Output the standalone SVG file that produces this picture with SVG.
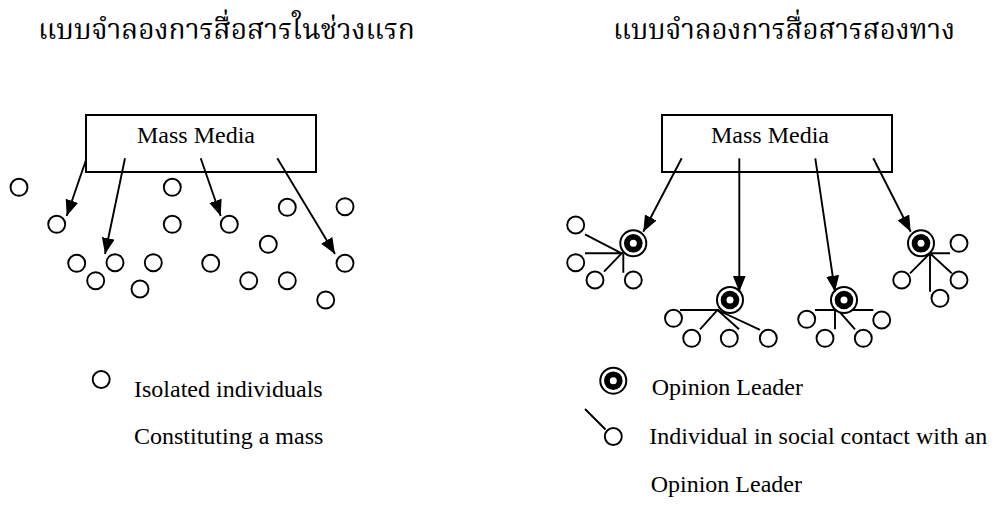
<svg xmlns="http://www.w3.org/2000/svg" width="1001" height="506" viewBox="0 0 1001 506">
<style>
.bg{fill:#fff}
.box{fill:#fff;stroke:#000;stroke-width:2}
.c{fill:#fff;stroke:#000;stroke-width:1.9}
.ln{stroke:#000;stroke-width:1.9;fill:none}
.arr{stroke:#000;stroke-width:1.9;fill:none;marker-end:url(#ah)}
.t{font-family:"Liberation Serif","Times New Roman",serif;font-size:24px;fill:#000}
.th{font-family:"Noto Serif Thai","Noto Sans Thai","DejaVu Sans","Noto Sans",sans-serif;font-size:28px;fill:#000}
</style>
<defs>
<marker id="ah" markerUnits="userSpaceOnUse" markerWidth="18" markerHeight="14" refX="16" refY="6.5" orient="auto">
<path d="M0,0 L16,6.5 L0,13 z" fill="#000"/>
</marker>
<g id="ol">
<circle r="13" fill="#fff" stroke="#000" stroke-width="2"/>
<circle r="9.3" fill="#000"/>
<circle r="3.5" fill="#fff"/>
</g>
</defs>
<rect class="bg" x="0" y="0" width="1001" height="506"/>

<g id="titles">
<text class="th" x="38" y="39" textLength="377" lengthAdjust="spacingAndGlyphs">แบบจำลองการสื่อสารในช่วงแรก</text>
<text class="th" x="613" y="39" textLength="342" lengthAdjust="spacingAndGlyphs">แบบจำลองการสื่อสารสองทาง</text>
</g>

<!-- Left diagram -->
<g id="mass-media-left">
<rect class="box" x="86" y="115" width="230" height="57"/>
<text class="t" x="196" y="143" text-anchor="middle">Mass Media</text>
</g>
<g id="individuals-left">
<circle class="c" cx="19" cy="187.3" r="8.5"/>
<circle class="c" cx="56.7" cy="224.3" r="8.5"/>
<circle class="c" cx="172.3" cy="187.3" r="8.5"/>
<circle class="c" cx="172.3" cy="224.3" r="8.5"/>
<circle class="c" cx="229.3" cy="224.3" r="8.5"/>
<circle class="c" cx="287.3" cy="207.3" r="8.5"/>
<circle class="c" cx="345" cy="206.7" r="8.5"/>
<circle class="c" cx="268.3" cy="244.3" r="8.5"/>
<circle class="c" cx="76.7" cy="263.3" r="8.5"/>
<circle class="c" cx="95.7" cy="280.7" r="8.5"/>
<circle class="c" cx="115" cy="262.7" r="8.5"/>
<circle class="c" cx="153.3" cy="262.7" r="8.5"/>
<circle class="c" cx="140" cy="289" r="8.5"/>
<circle class="c" cx="210.7" cy="263.3" r="8.5"/>
<circle class="c" cx="248.7" cy="280.7" r="8.5"/>
<circle class="c" cx="287.3" cy="280.7" r="8.5"/>
<circle class="c" cx="345" cy="263.3" r="8.5"/>
<circle class="c" cx="325.7" cy="300" r="8.5"/>
</g>

<!-- Right diagram -->
<g id="mass-media-right">
<rect class="box" x="662" y="115" width="230" height="57"/>
<text class="t" x="770" y="143" text-anchor="middle">Mass Media</text>
</g>

<g id="cluster1">
<circle class="c" cx="575.7" cy="225" r="8.5"/>
<circle class="c" cx="575.7" cy="262.7" r="8.5"/>
<circle class="c" cx="595" cy="280" r="8.5"/>
<circle class="c" cx="633.3" cy="280" r="8.5"/>
<path class="ln" d="M621.7,253.3 L585,234.3 M585,253.3 L621.7,253.3 L604,271.7 M623.3,253.3 L623.3,272.7"/>
<use href="#ol" x="633.3" y="243.3"/>
</g>
<g id="cluster2">
<circle class="c" cx="673.5" cy="318.3" r="8.5"/>
<circle class="c" cx="691.7" cy="338.3" r="8.5"/>
<circle class="c" cx="729.3" cy="338.3" r="8.5"/>
<circle class="c" cx="768.3" cy="338.3" r="8.5"/>
<path class="ln" d="M680,310 L717.5,310 L700,329.3 M717.5,310 L739,329.3 M717.5,310 L760,329.8"/>
<use href="#ol" x="730" y="300"/>
</g>
<g id="cluster3">
<circle class="c" cx="806.7" cy="319.3" r="8.5"/>
<circle class="c" cx="825" cy="338.3" r="8.5"/>
<circle class="c" cx="863.3" cy="338.3" r="8.5"/>
<circle class="c" cx="881.7" cy="320" r="8.5"/>
<path class="ln" d="M815,310 L873.3,310 M835,310 L835,329.3 M838,310 L855,329.3"/>
<use href="#ol" x="844" y="300"/>
</g>
<g id="cluster4">
<circle class="c" cx="959" cy="243.3" r="8.5"/>
<circle class="c" cx="901.7" cy="280" r="8.5"/>
<circle class="c" cx="959" cy="280" r="8.5"/>
<circle class="c" cx="940" cy="298.3" r="8.5"/>
<path class="ln" d="M930,253.3 L950,253.3 M930,253.3 L910,273.3 M930,253.3 L930,291.7 M930,253.3 L951.7,273.3"/>
<use href="#ol" x="921" y="243.3"/>
</g>

<g id="connectors">
<line class="arr" x1="86" y1="160" x2="66.7" y2="216"/>
<line class="arr" x1="125" y1="158.3" x2="105" y2="254"/>
<line class="arr" x1="200.7" y1="158.3" x2="220.7" y2="216"/>
<line class="arr" x1="277.3" y1="158.3" x2="335" y2="254"/>
<line class="arr" x1="681.7" y1="158.3" x2="643.3" y2="231.7"/>
<line class="arr" x1="739.3" y1="158.3" x2="739.3" y2="291.7"/>
<line class="arr" x1="815.3" y1="158.3" x2="835" y2="291.7"/>
<line class="arr" x1="873.3" y1="158.3" x2="910.7" y2="231.7"/>
</g>

<g id="legend-left">
<circle class="c" cx="101.2" cy="379.5" r="8.5"/>
<text class="t" x="134" y="397">Isolated individuals</text>
<text class="t" x="134" y="444">Constituting a mass</text>
</g>
<g id="legend-right">
<use href="#ol" x="613.3" y="380.7"/>
<text class="t" x="651.7" y="395">Opinion Leader</text>
<line class="ln" x1="585" y1="409" x2="605.5" y2="429.5"/>
<circle class="c" cx="613.3" cy="436.5" r="8.5"/>
<text class="t" x="649.3" y="444">Individual in social contact with an</text>
<text class="t" x="650.7" y="491.7">Opinion Leader</text>
</g>
</svg>
